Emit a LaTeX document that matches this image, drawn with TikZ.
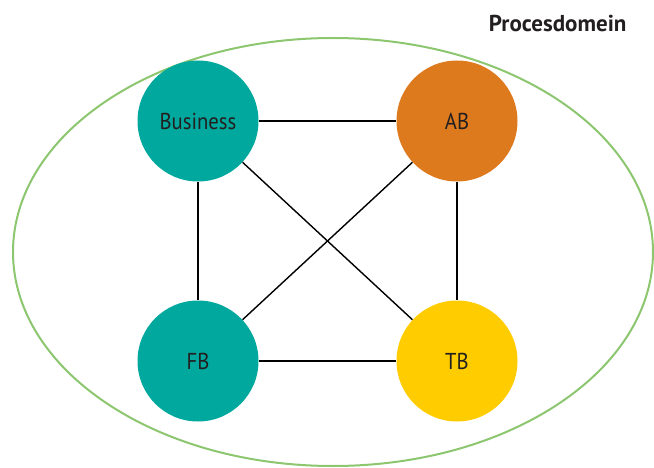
\documentclass[tikz,border=0pt]{standalone}
\usepackage{fontspec}
\setmainfont{PT Sans}[FakeStretch=0.9]
\newfontfamily\titlefont{PT Sans}
\definecolor{teal}{RGB}{0,168,157}
\definecolor{orangeab}{RGB}{222,122,30}
\definecolor{yellowtb}{RGB}{255,204,0}
\definecolor{domgreen}{RGB}{140,198,110}
\definecolor{txt}{RGB}{35,31,32}
\begin{document}
\begin{tikzpicture}[x=1pt,y=-1pt,
  role/.style={circle,minimum size=121pt,inner sep=0pt,text=txt,font=\fontsize{23}{26}\selectfont},
  link/.style={draw=black,line width=1.4pt}]
\useasboundingbox (0,0) rectangle (654,468);
% process domain
\draw[domgreen,line width=2pt] (333,252) ellipse [x radius=320, y radius=214];
\node[anchor=east,font=\titlefont\bfseries\fontsize{23}{26}\selectfont,text=txt] (dom) at (630,23) {Procesdomein};
% roles
\node[role,fill=teal] (bus) at (198,121) {Business};
\node[role,fill=orangeab] (ab) at (457,121) {AB};
\node[role,fill=teal] (fb) at (198,361) {FB};
\node[role,fill=yellowtb] (tb) at (457,361) {TB};
% connections
\draw[link] (bus) -- (ab);
\draw[link] (bus) -- (fb);
\draw[link] (ab) -- (tb);
\draw[link] (fb) -- (tb);
\draw[link] (bus) -- (tb);
\draw[link] (ab) -- (fb);
\end{tikzpicture}
\end{document}
